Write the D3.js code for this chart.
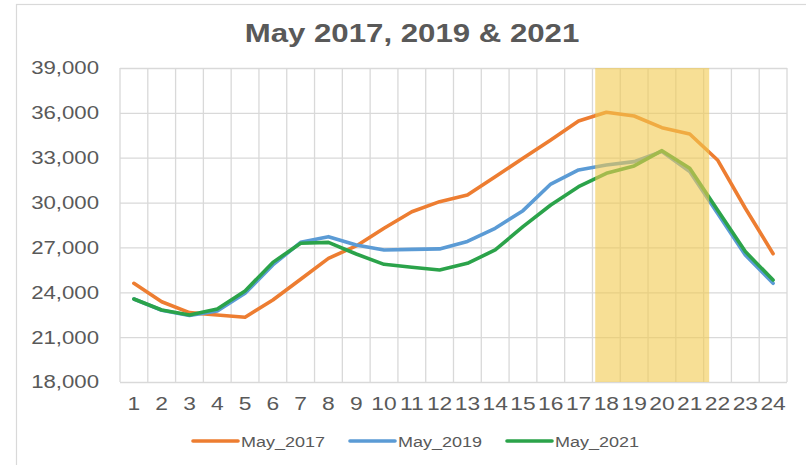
<!DOCTYPE html>
<html>
<head>
<meta charset="utf-8">
<script src="https://cdn.jsdelivr.net/npm/d3@7"></script>
<style>
  body { margin: 0; background: #fff; }
  svg { display: block; font-family: Arial, "Liberation Sans", sans-serif; }
  .wide { transform-box: fill-box; transform: scaleX(1.2); }
  .mid { transform-origin: center; }
  .right { transform-origin: right center; }
  .left { transform-origin: left center; }
</style>
</head>
<body>
<svg id="chart" width="806" height="465"></svg>
<script>
// hours of the day
const hours = d3.range(1, 25).map(String);

const may2017 = [24600, 23370, 22640, 22480, 22330, 23480, 24870, 26270, 27100, 28280,
  29390, 30060, 30500, 31730, 32960, 34190, 35460, 36040, 35790, 35010,
  34590, 32850, 29620, 26580];
const may2019 = [23550, 22800, 22450, 22750, 23930, 25830, 27340, 27720, 27160, 26830,
  26870, 26900, 27400, 28280, 29460, 31240, 32180, 32510, 32740, 33420,
  32070, 29280, 26490, 24600];
const may2021 = [23550, 22815, 22480, 22880, 24090, 26000, 27280, 27340, 26560, 25870,
  25670, 25490, 25940, 26830, 28390, 29840, 31060, 31960, 32450, 33470,
  32290, 29500, 26720, 24820];

const seriesNames = ['May_2017', 'May_2019', 'May_2021'];
const seriesColors = ['#ED7D31', '#5B9BD5', '#2BA34A'];
const yTicks = [18000, 21000, 24000, 27000, 30000, 33000, 36000, 39000];
const highlightHours = ['18', '21'];

const svg = d3.select('#chart');
const margin = { top: 68, right: 19, bottom: 83, left: 120 };
const W = 806, H = 465;
const width = W - margin.left - margin.right;
const height = H - margin.top - margin.bottom;

// chart frame
svg.append('rect')
  .attr('x', 16.5).attr('y', 4.5)
  .attr('width', 800).attr('height', 470)
  .attr('fill', 'none').attr('stroke', '#d9d9d9').attr('stroke-width', 1.2);

svg.append('text')
  .attr('class', 'wide mid')
  .attr('x', 412).attr('y', 42)
  .attr('text-anchor', 'middle')
  .attr('font-size', 26).attr('font-weight', 'bold')
  .attr('fill', '#595959')
  .text('May 2017, 2019 & 2021');

const g = svg.append('g')
  .attr('transform', 'translate(' + margin.left + ',' + margin.top + ')');

const x = d3.scaleBand().domain(hours).range([0, width]).padding(0);
const y = d3.scaleLinear().domain([18000, 39000]).range([height, 0]);

// horizontal grid
g.append('g')
  .call(d3.axisLeft(y).tickValues(yTicks).tickSize(-width).tickFormat(''))
  .call(ax => ax.select('.domain').remove())
  .call(ax => ax.selectAll('line').attr('stroke', '#d9d9d9').attr('stroke-width', 1.3));

// vertical grid at band edges
g.append('g')
  .selectAll('line')
  .data(hours.concat(['end']))
  .enter()
  .append('line')
  .attr('x1', d => d === 'end' ? width : x(d))
  .attr('x2', d => d === 'end' ? width : x(d))
  .attr('y1', 0).attr('y2', height)
  .attr('stroke', '#d9d9d9').attr('stroke-width', 1.3);

// y labels
g.append('g')
  .call(d3.axisLeft(y).tickValues(yTicks).tickSize(0).tickPadding(21).tickFormat(d3.format(',')))
  .call(ax => ax.select('.domain').remove())
  .call(ax => ax.selectAll('text')
    .attr('class', 'wide right')
    .attr('font-size', 18.5)
    .attr('font-family', 'Arial, "Liberation Sans", sans-serif')
    .attr('fill', '#595959'));

// x labels
g.append('g')
  .attr('transform', 'translate(0,' + height + ')')
  .call(d3.axisBottom(x).tickSize(0).tickPadding(15))
  .call(ax => ax.select('.domain').remove())
  .call(ax => ax.selectAll('text')
    .attr('class', 'wide mid')
    .attr('font-size', 19)
    .attr('font-family', 'Arial, "Liberation Sans", sans-serif')
    .attr('fill', '#595959'));

const line = d3.line()
  .x((d, i) => x(hours[i]) + x.bandwidth() / 2)
  .y(d => y(d));

[may2017, may2019, may2021].forEach(function(vals, k) {
  g.append('path')
    .datum(vals)
    .attr('fill', 'none')
    .attr('stroke', seriesColors[k])
    .attr('stroke-width', 3.6)
    .attr('stroke-linejoin', 'round')
    .attr('stroke-linecap', 'round')
    .attr('d', line);
});

// highlighted hours, drawn over the lines
const hx0 = x(highlightHours[0]) + x.step() * 0.1;
const hx1 = x(highlightHours[1]) + x.step() * 1.2;
g.append('rect')
  .attr('x', hx0).attr('y', 0)
  .attr('width', hx1 - hx0).attr('height', height)
  .attr('fill', '#F2C94F').attr('opacity', 0.6);

// legend
const legend = svg.append('g').attr('transform', 'translate(193,441)');
const legendStep = [0, 157, 314];
seriesNames.forEach(function(name, k) {
  const item = legend.append('g').attr('transform', 'translate(' + legendStep[k] + ',0)');
  item.append('line')
    .attr('x1', 0).attr('x2', 45)
    .attr('stroke', seriesColors[k]).attr('stroke-width', 3.6)
    .attr('stroke-linecap', 'round');
  item.append('text')
    .attr('class', 'wide left')
    .attr('x', 48).attr('y', 5.5)
    .attr('font-size', 15)
    .attr('fill', '#595959')
    .text(name);
});
</script>
</body>
</html>
